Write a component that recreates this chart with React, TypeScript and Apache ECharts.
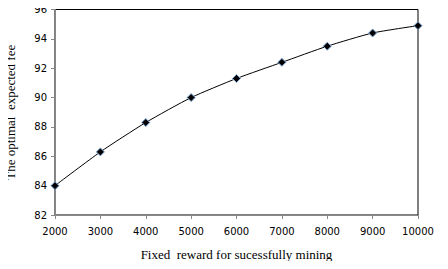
import React, { useEffect, useRef } from "react";
import * as echarts from "echarts";

const categories = [2000, 3000, 4000, 5000, 6000, 7000, 8000, 9000, 10000];
const fees = [84.0, 86.3, 88.3, 90.0, 91.3, 92.4, 93.5, 94.4, 94.9];
const yTicks = { min: 82, max: 96, interval: 2 };
const xTitle = "Fixed  reward for sucessfully mining";
const yTitle = "The optimal  expected fee";

export default function App() {
  const ref = useRef<HTMLDivElement>(null);
  useEffect(() => {
    const chart = echarts.init(ref.current!, null, { renderer: "svg" });
    chart.setOption({
      animation: false,
      grid: {
        left: 55,
        top: 9.5,
        right: 30,
        bottom: 54,
        show: true,
        borderColor: "#000",
        borderWidth: 1,
        backgroundColor: "transparent",
        outerBoundsMode: "none",
        containLabel: false,
      },
      xAxis: {
        type: "value",
        min: 2000,
        max: 10000,
        interval: 1000,
        name: xTitle,
        nameLocation: "middle",
        nameGap: 33,
        nameTextStyle: { fontFamily: "Liberation Serif", fontSize: 13, color: "#000" },
        axisLine: { show: true, lineStyle: { color: "#888", width: 1 } },
        axisTick: { show: true, length: 4, lineStyle: { color: "#888" } },
        axisLabel: {
          fontFamily: "DejaVu Sans",
          fontSize: 10,
          color: "#000",
          margin: 11,
          formatter: (v: number) => String(v),
        },
        splitLine: { show: false },
      },
      yAxis: {
        type: "value",
        min: yTicks.min,
        max: yTicks.max,
        interval: yTicks.interval,
        name: yTitle,
        nameLocation: "middle",
        nameGap: 38,
        nameTextStyle: { fontFamily: "Liberation Serif", fontSize: 13, color: "#000" },
        axisLine: { show: true, lineStyle: { color: "#888", width: 1 } },
        axisTick: { show: true, length: 4, lineStyle: { color: "#888" } },
        axisLabel: { fontFamily: "DejaVu Sans", fontSize: 10, color: "#000", margin: 8 },
        splitLine: { show: false },
      },
      series: [
        {
          type: "line",
          data: categories.map((c, i) => [c, fees[i]]),
          smooth: 0.2,
          symbol: "diamond",
          symbolSize: 8,
          lineStyle: { color: "#000", width: 1 },
          itemStyle: { color: "#000", borderColor: "#7aa6d6", borderWidth: 1 },
        },
      ],
    });
    return () => chart.dispose();
  }, []);
  return <div ref={ref} style={{ width: 448, height: 269, margin: -8 }} />;
}
